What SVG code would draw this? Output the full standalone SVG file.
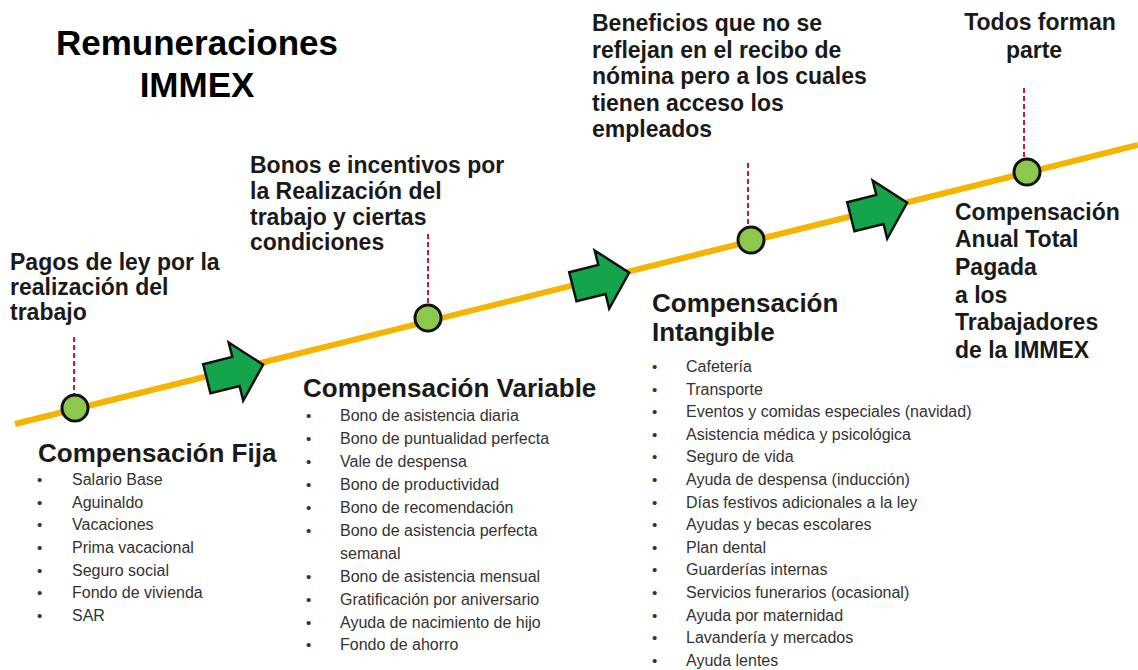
<svg xmlns="http://www.w3.org/2000/svg" width="1138" height="670" viewBox="0 0 1138 670">
<defs>
<style>
.title{font-family:"Liberation Sans",Arial,sans-serif;font-weight:bold;font-size:35px;fill:#000;text-anchor:middle}
.ann{font-family:"Liberation Sans",Arial,sans-serif;font-weight:bold;font-size:23px;fill:#1a1a1a}
.head{font-family:"Liberation Sans",Arial,sans-serif;font-weight:bold;font-size:26px;fill:#1a1a1a}
.li{font-family:"Liberation Sans",Arial,sans-serif;font-size:16px;fill:#333}
.bul{font-family:"Liberation Sans",Arial,sans-serif;font-size:15px;fill:#333}
.dash{stroke:#c8183c;stroke-width:2;stroke-dasharray:5 3;fill:none}
.dot{fill:#8cc84b;stroke:#111;stroke-width:3}
.arr{fill:#14a54c;stroke:#111;stroke-width:2.5;stroke-linejoin:miter}
</style>
<path id="arrowShape" d="M-28,-15 L2,-15 L2,-30 L30,0 L2,30 L2,15 L-28,15 Z"/>
</defs>
<rect width="1138" height="670" fill="#fff"/>

<g id="title">
<text class="title" x="197" y="55">Remuneraciones</text>
<text class="title" x="197" y="97">IMMEX</text>
</g>

<g id="connectors">
<line x1="15" y1="424" x2="1138" y2="145" stroke="#f4b400" stroke-width="6"/>
<line class="dash" x1="74" y1="337" x2="74" y2="394"/>
<line class="dash" x1="428" y1="234" x2="428" y2="304"/>
<line class="dash" x1="748" y1="163" x2="748" y2="226"/>
<line class="dash" x1="1024" y1="88" x2="1024" y2="158"/>
<use href="#arrowShape" class="arr" transform="translate(234,372) rotate(-14)"/>
<use href="#arrowShape" class="arr" transform="translate(600,280) rotate(-14)"/>
<use href="#arrowShape" class="arr" transform="translate(878,210) rotate(-14)"/>
</g>

<g id="node-fija">
<circle class="dot" cx="75" cy="408" r="13"/>
<text class="ann" x="10" y="270">Pagos de ley por la</text>
<text class="ann" x="10" y="295">realización del</text>
<text class="ann" x="10" y="320">trabajo</text>
<text class="head" x="38" y="462">Compensación Fija</text>
<g class="bul"><text x="37" y="485">•</text><text x="37" y="508">•</text><text x="37" y="530">•</text><text x="37" y="553">•</text><text x="37" y="576">•</text><text x="37" y="598">•</text><text x="37" y="621">•</text></g>
<text class="li" x="72" y="485">Salario Base</text>
<text class="li" x="72" y="508">Aguinaldo</text>
<text class="li" x="72" y="530">Vacaciones</text>
<text class="li" x="72" y="553">Prima vacacional</text>
<text class="li" x="72" y="576">Seguro social</text>
<text class="li" x="72" y="598">Fondo de vivienda</text>
<text class="li" x="72" y="621">SAR</text>
</g>

<g id="node-variable">
<circle class="dot" cx="428" cy="318" r="13"/>
<text class="ann" x="250" y="173">Bonos e incentivos por</text>
<text class="ann" x="250" y="199">la Realización del</text>
<text class="ann" x="250" y="225">trabajo y ciertas</text>
<text class="ann" x="250" y="250">condiciones</text>
<text class="head" x="303" y="397">Compensación Variable</text>
<g class="bul"><text x="306" y="421">•</text><text x="306" y="444">•</text><text x="306" y="467">•</text><text x="306" y="490">•</text><text x="306" y="513">•</text><text x="306" y="536">•</text><text x="306" y="582">•</text><text x="306" y="605">•</text><text x="306" y="628">•</text><text x="306" y="650">•</text></g>
<text class="li" x="340" y="421">Bono de asistencia diaria</text>
<text class="li" x="340" y="444">Bono de puntualidad perfecta</text>
<text class="li" x="340" y="467">Vale de despensa</text>
<text class="li" x="340" y="490">Bono de productividad</text>
<text class="li" x="340" y="513">Bono de recomendación</text>
<text class="li" x="340" y="536">Bono de asistencia perfecta</text>
<text class="li" x="340" y="559">semanal</text>
<text class="li" x="340" y="582">Bono de asistencia mensual</text>
<text class="li" x="340" y="605">Gratificación por aniversario</text>
<text class="li" x="340" y="628">Ayuda de nacimiento de hijo</text>
<text class="li" x="340" y="650">Fondo de ahorro</text>
</g>

<g id="node-intangible">
<circle class="dot" cx="751" cy="240" r="13"/>
<text class="ann" x="592" y="31">Beneficios que no se</text>
<text class="ann" x="592" y="58">reflejan en el recibo de</text>
<text class="ann" x="592" y="84">nómina pero a los cuales</text>
<text class="ann" x="592" y="111">tienen acceso los</text>
<text class="ann" x="592" y="137">empleados</text>
<text class="head" x="652" y="312">Compensación</text>
<text class="head" x="652" y="341">Intangible</text>
<g class="bul"><text x="652" y="372">•</text><text x="652" y="395">•</text><text x="652" y="417">•</text><text x="652" y="440">•</text><text x="652" y="462">•</text><text x="652" y="485">•</text><text x="652" y="508">•</text><text x="652" y="530">•</text><text x="652" y="553">•</text><text x="652" y="575">•</text><text x="652" y="598">•</text><text x="652" y="621">•</text><text x="652" y="643">•</text><text x="652" y="666">•</text></g>
<text class="li" x="686" y="372">Cafetería</text>
<text class="li" x="686" y="395">Transporte</text>
<text class="li" x="686" y="417">Eventos y comidas especiales (navidad)</text>
<text class="li" x="686" y="440">Asistencia médica y psicológica</text>
<text class="li" x="686" y="462">Seguro de vida</text>
<text class="li" x="686" y="485">Ayuda de despensa (inducción)</text>
<text class="li" x="686" y="508">Días festivos adicionales a la ley</text>
<text class="li" x="686" y="530">Ayudas y becas escolares</text>
<text class="li" x="686" y="553">Plan dental</text>
<text class="li" x="686" y="575">Guarderías internas</text>
<text class="li" x="686" y="598">Servicios funerarios (ocasional)</text>
<text class="li" x="686" y="621">Ayuda por maternidad</text>
<text class="li" x="686" y="643">Lavandería y mercados</text>
<text class="li" x="686" y="666">Ayuda lentes</text>
</g>

<g id="node-total">
<circle class="dot" cx="1027" cy="172" r="13"/>
<text class="ann" x="1040" y="30" text-anchor="middle">Todos forman</text>
<text class="ann" x="1034" y="58" text-anchor="middle">parte</text>
<text class="ann" x="955" y="220">Compensación</text>
<text class="ann" x="955" y="247">Anual Total</text>
<text class="ann" x="955" y="275">Pagada</text>
<text class="ann" x="955" y="303">a los</text>
<text class="ann" x="955" y="330">Trabajadores</text>
<text class="ann" x="955" y="358">de la IMMEX</text>
</g>
</svg>
